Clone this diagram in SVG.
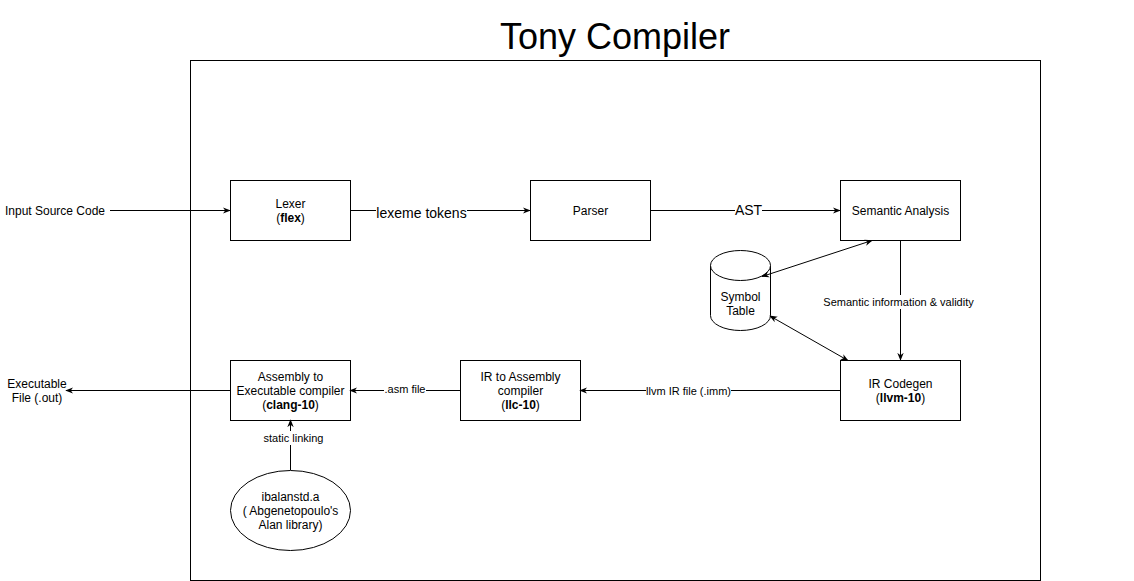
<svg xmlns="http://www.w3.org/2000/svg" width="1134" height="581" viewBox="0 0 1134 581">
<style>
.b{fill:#fff;stroke:#000;stroke-width:1}
.t{font-family:"Liberation Sans",Arial,sans-serif;font-size:12px;fill:#000;text-anchor:middle}
.s{font-family:"Liberation Sans",Arial,sans-serif;font-size:11px;fill:#000;text-anchor:middle}
.l{fill:none;stroke:#000;stroke-width:1}
.lb{fill:#fff}
</style>
<defs>
<marker id="a" viewBox="0 0 10 10" refX="9" refY="5" markerWidth="8" markerHeight="8" orient="auto-start-reverse" markerUnits="userSpaceOnUse">
<path d="M0,1 L10,5 L0,9 L3,5 Z" fill="#000"/>
</marker>
</defs>
<rect width="1134" height="581" fill="#fff"/>
<text x="615" y="49" font-family="'Liberation Sans',Arial,sans-serif" font-size="36" text-anchor="middle">Tony Compiler</text>
<rect id="frame" x="190.5" y="60.5" width="850" height="520" class="b"/>
<g id="input"><text x="55" y="215" class="t">Input Source Code</text></g>
<g id="output"><text x="37" y="388" class="t">Executable</text><text x="37" y="402" class="t">File (.out)</text></g>
<g id="lexer"><rect x="230.5" y="180.5" width="120" height="60" class="b"/><text x="290.5" y="208" class="t">Lexer</text><text x="290.5" y="222" class="t">(<tspan font-weight="bold">flex</tspan>)</text></g>
<g id="parser"><rect x="530.5" y="180.5" width="120" height="60" class="b"/><text x="590.5" y="215" class="t">Parser</text></g>
<g id="semantic"><rect x="840.5" y="180.5" width="120" height="60" class="b"/><text x="900.5" y="215" class="t">Semantic Analysis</text></g>
<g id="symtab"><path d="M710.5,265.5 v50 a30,15 0 0 0 60,0 v-50" class="b"/><ellipse cx="740.5" cy="265.5" rx="30" ry="15" class="b"/><text x="740.5" y="301" class="t">Symbol</text><text x="740.5" y="315" class="t">Table</text></g>
<g id="codegen"><rect x="840.5" y="360.5" width="120" height="60" class="b"/><text x="900.5" y="388" class="t">IR Codegen</text><text x="900.5" y="402" class="t">(<tspan font-weight="bold">llvm-10</tspan>)</text></g>
<g id="llc"><rect x="460.5" y="360.5" width="120" height="60" class="b"/><text x="520.5" y="381" class="t">IR to Assembly</text><text x="520.5" y="395" class="t">compiler</text><text x="520.5" y="409" class="t">(<tspan font-weight="bold">llc-10</tspan>)</text></g>
<g id="clang"><rect x="230.5" y="360.5" width="120" height="60" class="b"/><text x="290.5" y="381" class="t">Assembly to</text><text x="290.5" y="395" class="t">Executable compiler</text><text x="290.5" y="409" class="t">(<tspan font-weight="bold">clang-10</tspan>)</text></g>
<g id="lib"><ellipse cx="290.5" cy="510.5" rx="60" ry="40" class="b"/><text x="290.5" y="501" class="t">ibalanstd.a</text><text x="290.5" y="515" class="t">( Abgenetopoulo's</text><text x="290.5" y="529" class="t">Alan library)</text></g>
<g id="connectors">
<line x1="110" y1="210.5" x2="230" y2="210.5" class="l" marker-end="url(#a)"/>
<line x1="350" y1="210.5" x2="530" y2="210.5" class="l" marker-end="url(#a)"/>
<rect x="376" y="203" width="91" height="16" class="lb"/>
<text x="421.5" y="218" font-family="'Liberation Sans',Arial,sans-serif" font-size="14" text-anchor="middle">lexeme tokens</text>
<line x1="650" y1="210.5" x2="840" y2="210.5" class="l" marker-end="url(#a)"/>
<rect x="735" y="202" width="27" height="16" class="lb"/>
<text x="748.5" y="215" font-family="'Liberation Sans',Arial,sans-serif" font-size="14" text-anchor="middle">AST</text>
<line x1="872" y1="240.5" x2="762" y2="276.5" class="l" marker-start="url(#a)" marker-end="url(#a)"/>
<line x1="770" y1="316" x2="848" y2="360.5" class="l" marker-start="url(#a)" marker-end="url(#a)"/>
<line x1="900.5" y1="240" x2="900.5" y2="360" class="l" marker-end="url(#a)"/>
<rect x="822" y="295" width="153" height="14" class="lb"/>
<text x="898.5" y="306" class="s">Semantic information &amp; validity</text>
<line x1="840" y1="390.5" x2="580" y2="390.5" class="l" marker-end="url(#a)"/>
<rect x="646" y="384" width="85" height="14" class="lb"/>
<text x="688.5" y="395" class="s">llvm IR file (.imm)</text>
<line x1="460" y1="390.5" x2="350" y2="390.5" class="l" marker-end="url(#a)"/>
<rect x="384" y="383" width="42" height="14" class="lb"/>
<text x="405" y="393" class="s">.asm file</text>
<line x1="230" y1="390.5" x2="66" y2="390.5" class="l" marker-end="url(#a)"/>
<line x1="290.5" y1="470" x2="290.5" y2="420" class="l" marker-end="url(#a)"/>
<rect x="262" y="431" width="62" height="14" class="lb"/>
<text x="293.5" y="442" class="s">static linking</text>
</g>
</svg>
